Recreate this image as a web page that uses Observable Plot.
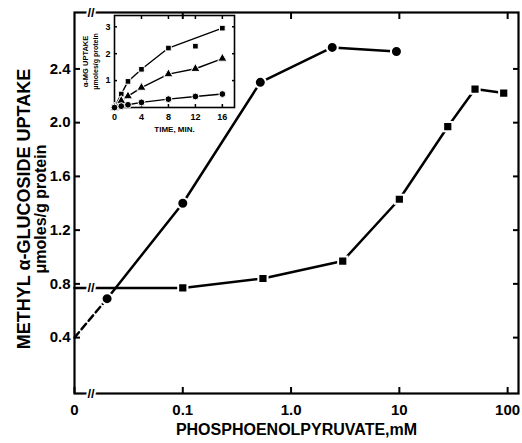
<!DOCTYPE html>
<html><head><meta charset="utf-8">
<script src="https://cdn.jsdelivr.net/npm/d3@7"></script>
<script src="https://cdn.jsdelivr.net/npm/@observablehq/plot@0.6"></script>
<style>
body{margin:0;background:#fff}
#wrap{position:relative;width:522px;height:443px;background:#fff}
#wrap svg{position:absolute}
</style></head><body><div id="wrap"></div>
<script>
// ---- main chart data (PEP concentration, mM ; uptake, µmoles/g protein)
const pepCircles = [0, 0.02, 0.1, 0.52, 2.4, 9.4];
const uptakeCircles = [0.40, 0.69, 1.40, 2.30, 2.56, 2.53];
const pepSquares = [0, 0.1, 0.55, 3.0, 10, 28, 50, 92];
const uptakeSquares = [0.77, 0.77, 0.84, 0.97, 1.43, 1.97, 2.25, 2.22];
const xTicks = [0, 0.1, 1, 10, 100];
const xTickLabels = ["0", "0.1", "1.0", "10", "100"];
const yTicks = [0.4, 0.8, 1.2, 1.6, 2.0, 2.4];
const yTickLabels = ["0.4", "0.8", "1.2", "1.6", "2.0", "2.4"];

// ---- inset data (time, min ; α-MG uptake)
const insetTime = [0, 1, 2, 4, 8, 12, 16];
const insetSquares = [0, 0.5, 0.97, 1.42, 2.21, 2.28, 2.95];
const insetSquaresJoined = [true, true, true, true, true, false, true];
const insetTriangles = [0, 0.25, 0.42, 0.74, 1.24, 1.44, 1.82];
const insetCircles = [0, 0.05, 0.10, 0.19, 0.31, 0.41, 0.50];
const insetXTicks = [0, 4, 8, 12, 16];
const insetYTicks = [1, 2, 3];

// zero on the broken log axis is drawn at the axis origin
const X_ZERO = 0.01;
const X_BREAK = 0.0142;
const xPos = v => v === 0 ? X_ZERO : v;
const xLabel = new Map(xTicks.map((t, i) => [xPos(t), xTickLabels[i]]));
const yLabel = new Map(yTicks.map((t, i) => [t, yTickLabels[i]]));

const circ = pepCircles.map((x, i) => ({x: xPos(x), y: uptakeCircles[i]}));
const sq = pepSquares.map((x, i) => ({x: xPos(x), y: uptakeSquares[i]}));

const font = "'Liberation Sans', Arial, sans-serif";
const blank = () => "";

const main = Plot.plot({
  width: 522, height: 443,
  marginLeft: 74, marginRight: 4, marginTop: 12, marginBottom: 50,
  style: {fontFamily: font, fontWeight: "bold", color: "black", background: "transparent", overflow: "visible"},
  x: {type: "log", domain: [X_ZERO, 126]},
  y: {domain: [-0.016, 2.82]},
  marks: [
    Plot.frame({strokeWidth: 2.2}),
    Plot.axisX({anchor: "bottom", ticks: xTicks.map(xPos), tickFormat: d => xLabel.get(d), tickSize: -6, tickPadding: 17, strokeWidth: 2, fontSize: 15, label: null}),
    Plot.axisX({anchor: "top", ticks: xTicks.slice(1), tickFormat: blank, tickSize: -6, tickPadding: 0, strokeWidth: 2, label: null}),
    Plot.axisY({anchor: "left", ticks: yTicks, tickFormat: d => yLabel.get(d), tickSize: -6, tickPadding: 10, strokeWidth: 2, fontSize: 15, label: null}),
    Plot.axisY({anchor: "right", ticks: yTicks, tickFormat: blank, tickSize: -6, tickPadding: 0, strokeWidth: 2, label: null}),
    // axis titles
    Plot.text(["METHYL α-GLUCOSIDE UPTAKE"], {frameAnchor: "left", textAnchor: "middle", lineAnchor: "middle", dx: -50, dy: 6, rotate: -90, fontSize: 18, fontWeight: "bold"}),
    Plot.text(["μmoles/g protein"], {frameAnchor: "left", textAnchor: "middle", lineAnchor: "middle", dx: -34, dy: 6, rotate: -90, fontSize: 16, fontWeight: "bold"}),
    Plot.text(["PHOSPHOENOLPYRUVATE,mM"], {frameAnchor: "bottom", lineAnchor: "middle", dy: 36, fontSize: 16, fontWeight: "bold"}),
    // series
    Plot.line(circ.slice(0, 2), {x: "x", y: "y", strokeWidth: 2.5, strokeDasharray: "7,4"}),
    Plot.line(circ.slice(1), {x: "x", y: "y", strokeWidth: 2.5}),
    Plot.line(sq, {x: "x", y: "y", strokeWidth: 2.5}),
    // axis breaks
    Plot.text(["//"], {x: X_BREAK, frameAnchor: "top", lineAnchor: "middle", fontSize: 13, fill: "black", stroke: "white", strokeWidth: 4}),
    Plot.text(["//"], {x: X_BREAK, frameAnchor: "bottom", lineAnchor: "middle", fontSize: 13, fill: "black", stroke: "white", strokeWidth: 4}),
    Plot.text(["//"], {x: X_BREAK, y: uptakeSquares[0], fontSize: 13, fill: "black", stroke: "white", strokeWidth: 4}),
    Plot.dot(circ.slice(1), {x: "x", y: "y", r: 5.5, fill: "black", stroke: "white", strokeWidth: 2}),
    Plot.dot(sq.slice(1), {x: "x", y: "y", r: 5.2, symbol: "square", fill: "black", stroke: "white", strokeWidth: 2})
  ]
});
main.style.left = "0px"; main.style.top = "0px";
document.getElementById("wrap").appendChild(main);

// ---- inset
const sqI = insetTime.map((t, i) => ({t, v: insetSquares[i], joined: insetSquaresJoined[i]}));
const triI = insetTime.map((t, i) => ({t, v: insetTriangles[i]}));
const cirI = insetTime.map((t, i) => ({t, v: insetCircles[i]}));

const inset = Plot.plot({
  width: 170, height: 130,
  marginLeft: 39, marginRight: 11, marginTop: 7, marginBottom: 31,
  style: {fontFamily: font, fontWeight: "bold", color: "black", background: "transparent", overflow: "visible"},
  x: {domain: [0, 17.8]},
  y: {domain: [0, 3.42]},
  marks: [
    Plot.frame({strokeWidth: 1.6}),
    Plot.axisX({anchor: "bottom", ticks: insetXTicks, tickFormat: d => String(d), tickSize: -3, tickPadding: 9, strokeWidth: 1.5, fontSize: 9, label: null}),
    Plot.axisX({anchor: "top", ticks: insetXTicks.slice(1), tickFormat: blank, tickSize: -3, tickPadding: 0, strokeWidth: 1.5, label: null}),
    Plot.axisY({anchor: "left", ticks: insetYTicks, tickFormat: d => String(d), tickSize: -3, tickPadding: 7, strokeWidth: 1.5, fontSize: 9, label: null}),
    Plot.axisY({anchor: "right", ticks: insetYTicks, tickFormat: blank, tickSize: -3, tickPadding: 0, strokeWidth: 1.5, label: null}),
    Plot.text(["α-MG UPTAKE"], {frameAnchor: "left", textAnchor: "middle", lineAnchor: "middle", dx: -29, rotate: -90, fontSize: 7.5, fontWeight: "bold"}),
    Plot.text(["μmoles/g protein"], {frameAnchor: "left", textAnchor: "middle", lineAnchor: "middle", dx: -19, rotate: -90, fontSize: 7, fontWeight: "bold"}),
    Plot.text(["TIME, MIN."], {frameAnchor: "bottom", lineAnchor: "middle", dy: 22, fontSize: 8, fontWeight: "bold"}),
    Plot.line(sqI.filter(d => d.joined), {x: "t", y: "v", strokeWidth: 1.4}),
    Plot.line(triI, {x: "t", y: "v", strokeWidth: 1.4}),
    Plot.line(cirI, {x: "t", y: "v", strokeWidth: 1.4}),
    Plot.dot(sqI, {x: "t", y: "v", r: 3.2, symbol: "square", fill: "black", stroke: "white", strokeWidth: 1}),
    Plot.dot(triI, {x: "t", y: "v", r: 3.4, symbol: "triangle", fill: "black", stroke: "white", strokeWidth: 1}),
    Plot.dot(cirI, {x: "t", y: "v", r: 3.4, fill: "black", stroke: "white", strokeWidth: 1})
  ]
});
inset.style.left = "75px"; inset.style.top = "8px";
document.getElementById("wrap").appendChild(inset);
</script></body></html>
